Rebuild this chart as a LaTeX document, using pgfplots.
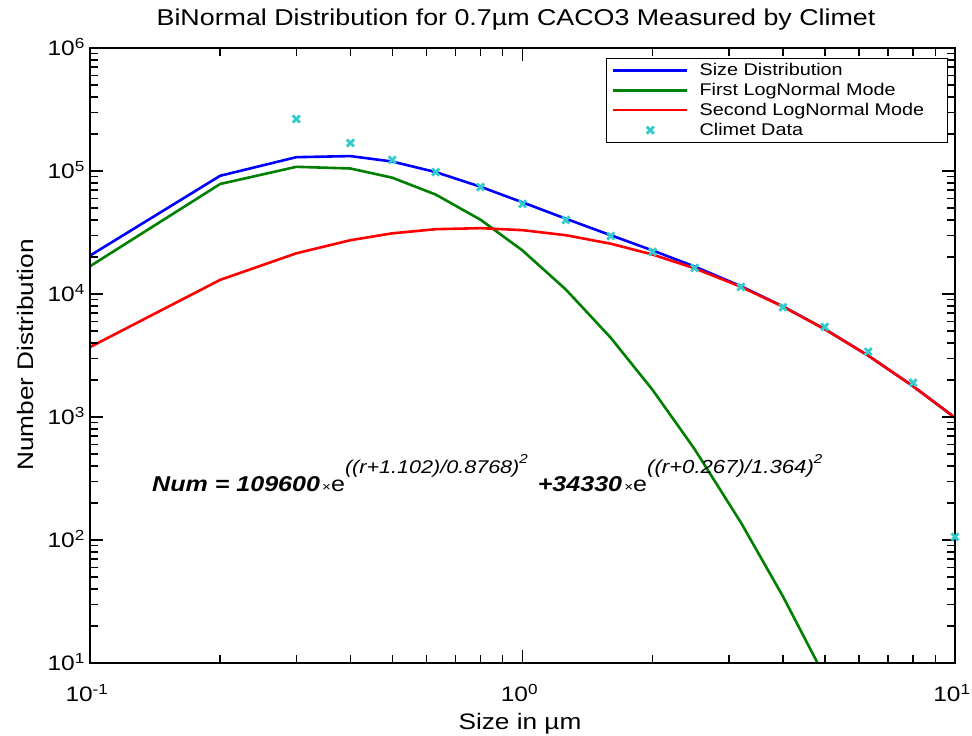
\documentclass[border=0pt]{standalone}
\usepackage{fontspec}
\setmainfont{Liberation Sans}[FakeStretch=1.17]
\usepackage{pgfplots}
\pgfplotsset{compat=1.18}
\definecolor{mblue}{rgb}{0,0,1}
\definecolor{mgreen}{rgb}{0,0.5,0}
\definecolor{mred}{rgb}{1,0,0}
\definecolor{mcyan}{rgb}{0.2,0.8,0.8}
\begin{document}
\begin{tikzpicture}
\fill[white] (0bp,0bp) rectangle (972bp,736bp);
\begin{axis}[
  at={(90bp,73bp)}, anchor=south west,
  scale only axis, width=865bp, height=615bp,
  xmode=log, ymode=log,
  xmin=0.1, xmax=10, ymin=10, ymax=1e6,
  xtick={0.1,1,10},
  xticklabels={10\textsuperscript{-1},10\textsuperscript{0},10\textsuperscript{1}},
  minor xtick={0.2,0.3,0.4,0.5,0.6,0.7,0.8,0.9,2,3,4,5,6,7,8,9},
  ytick={10,100,1000,10000,100000,1000000},
  yticklabels={10\textsuperscript{1},10\textsuperscript{2},10\textsuperscript{3},10\textsuperscript{4},10\textsuperscript{5},10\textsuperscript{6}},
  minor ytick={20,30,40,50,60,70,80,90,200,300,400,500,600,700,800,900,2000,3000,4000,5000,6000,7000,8000,9000,20000,30000,40000,50000,60000,70000,80000,90000,200000,300000,400000,500000,600000,700000,800000,900000},
  xticklabel style={font=\fontsize{21}{25}\selectfont, inner sep=0pt, anchor=base, yshift=-39bp, xshift=-3bp},
  yticklabel style={font=\fontsize{21}{25}\selectfont, inner sep=0pt, anchor=base east, xshift=-5bp, yshift=-8bp},
  axis on top,
  tick align=inside,
  tickwidth=13bp, subtickwidth=8bp,
  every tick/.style={black, line width=1.6bp},
  every minor tick/.style={black, line width=1.4bp},
  axis line style={line width=1.5bp},
  legend cell align=left,
  legend image code/.code={\draw[mark repeat=2,mark phase=2,#1] plot coordinates {(0bp,0bp)(37bp,0bp)(74bp,0bp)};},
  legend style={at={(1,1)}, anchor=north east, xshift=-7bp, yshift=-10bp,
    draw=black, line width=0.8bp, font=\fontsize{17}{20}\selectfont,
    inner xsep=6bp, inner ysep=3bp, row sep=2.2bp,
    /tikz/every odd column/.append style={column sep=9bp}},
]
\addplot[mblue, line width=2.6bp] coordinates {
(0.1,20511)(0.2,91442)(0.3,129544)(0.4,132162)(0.5,119321)(0.63,97970)(0.8,74426)(1,55622)(1.26,40905)(1.6,30041)(2,22573)(2.5,16723)(3.2,11573)(4,7935)(5,5181)(6.3,3155)(8,1780)(10,987)};
\addlegendentry{\makebox[240bp][l]{Size Distribution}}
\addplot[mgreen, line width=2.6bp] coordinates {
(0.1,16809)(0.2,78410)(0.3,108128)(0.4,104792)(0.5,88183)(0.63,64335)(0.8,40131)(1,22583)(1.26,10861)(1.6,4403)(2,1657)(2.5,547.8)(3.2,138.4)(4,34.84)(5,7.70)(6.3,1.41)(8,0.21)(10,0.031)};
\addlegendentry{\makebox[240bp][l]{First LogNormal Mode}}
\addplot[mred, line width=2.6bp] coordinates {
(0.1,3702)(0.2,13032)(0.3,21416)(0.4,27370)(0.5,31138)(0.63,33635)(0.8,34295)(1,33039)(1.26,30044)(1.6,25638)(2,20916)(2.5,16175)(3.2,11435)(4,7900)(5,5173)(6.3,3154)(8,1780)(10,987)};
\addlegendentry{\makebox[240bp][l]{Second LogNormal Mode}}
\addplot[only marks, mark=x, mark size=5bp, mcyan, line width=2.8bp] coordinates {
(0.3,265000)(0.4,169000)(0.5,123000)(0.63,98000)(0.8,74000)(1,54000)(1.26,40000)(1.6,29600)(2,22000)(2.5,16300)(3.2,11400)(4,7800)(5,5400)(6.3,3400)(8,1900)(10,106)};
\addlegendentry{\makebox[240bp][l]{Climet Data}}
\end{axis}
\node[anchor=base, font=\fontsize{23}{27}\selectfont] at (516bp,710bp) {BiNormal Distribution for 0.7µm CACO3 Measured by Climet};
\node[anchor=base, font=\fontsize{22.5}{27}\selectfont] at (520bp,7bp) {Size in µm};
\node[anchor=base, rotate=90, font=\fontsize{22.5}{27}\selectfont] at (33bp,381bp) {Number Distribution};
\node[anchor=base west, inner sep=0pt] at (152bp,244bp) {%
{\fontsize{21.5}{24}\selectfont\bfseries\itshape Num = 109600}%
{\fontsize{13}{15}\selectfont\,×}%
{\fontsize{21.5}{24}\selectfont e}%
\raisebox{18bp}{\fontsize{18.5}{21}\selectfont\itshape ((r+1.102)/0.8768)\raisebox{10bp}{\fontsize{13}{15}\selectfont 2}}%
\hspace{10bp}{\fontsize{21.5}{24}\selectfont\bfseries\itshape +34330}%
{\fontsize{13}{15}\selectfont\,×}%
{\fontsize{21.5}{24}\selectfont e}%
\raisebox{18bp}{\fontsize{19}{21}\selectfont\itshape ((r+0.267)/1.364)\raisebox{10bp}{\fontsize{13}{15}\selectfont 2}}};
\pgfresetboundingbox
\path[use as bounding box] (0bp,0bp) rectangle (972bp,736bp);
\end{tikzpicture}
\end{document}
